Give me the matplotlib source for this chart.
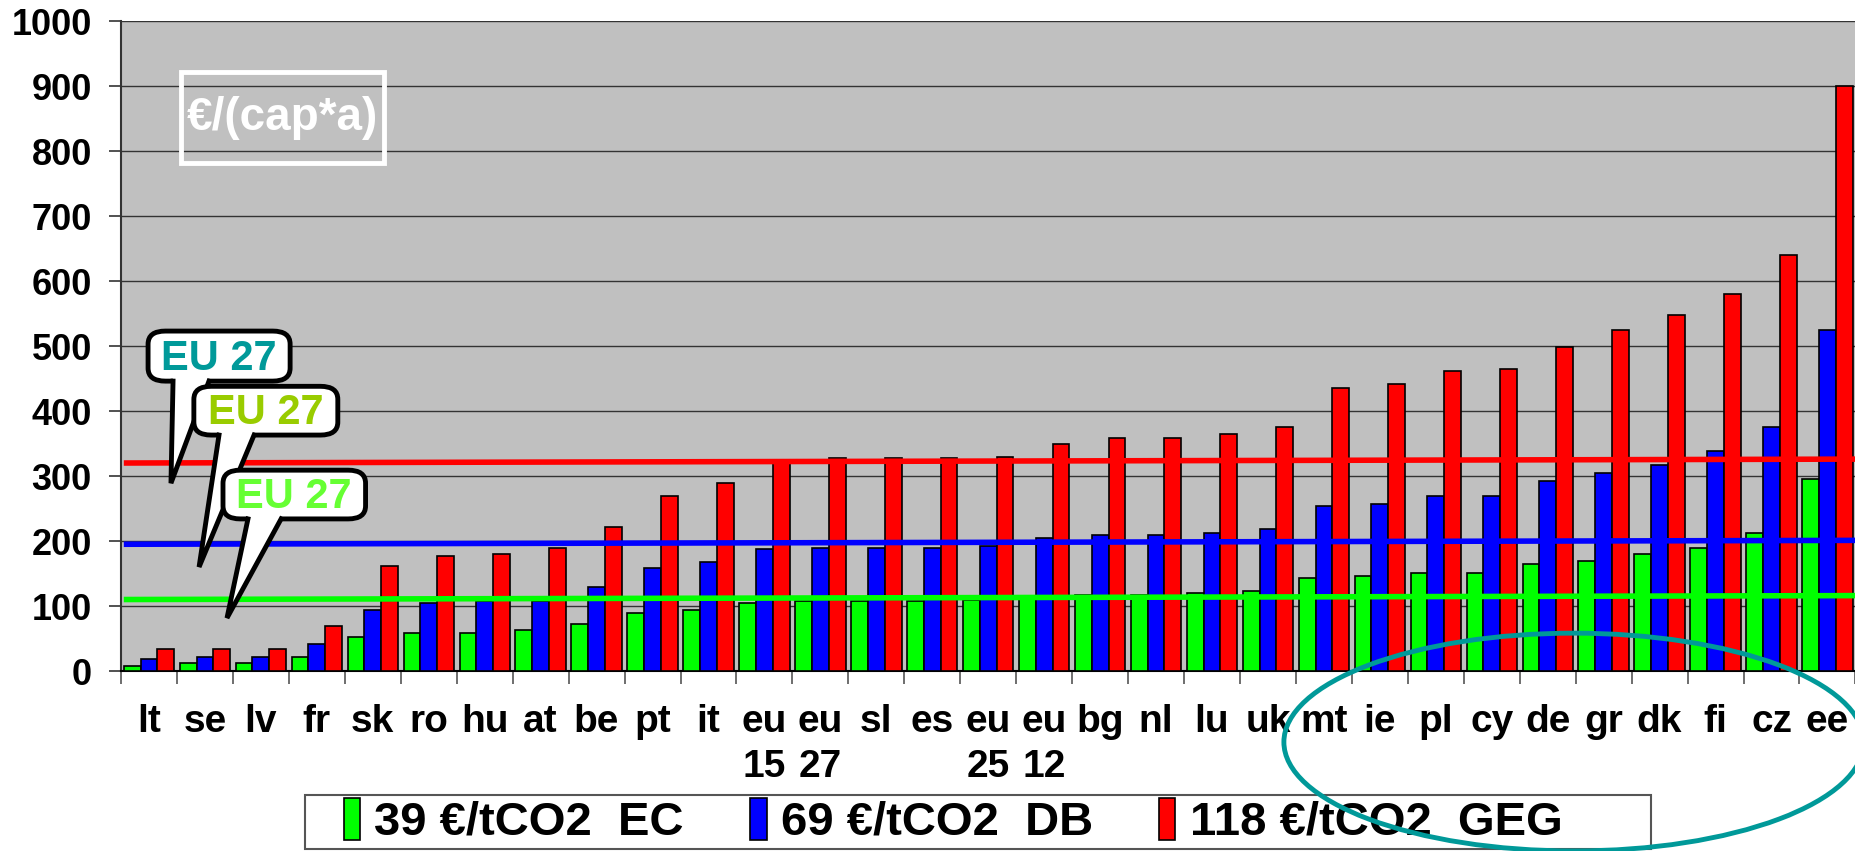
import matplotlib
matplotlib.use('Agg')
import matplotlib.pyplot as plt
import numpy as np
from matplotlib.patches import FancyBboxPatch, Polygon, Ellipse, Rectangle

# data (€ per capita and year)
countries = ['lt', 'se', 'lv', 'fr', 'sk', 'ro', 'hu', 'at', 'be', 'pt', 'it',
             'eu\n15', 'eu\n27', 'sl', 'es', 'eu\n25', 'eu\n12', 'bg', 'nl', 'lu',
             'uk', 'mt', 'ie', 'pl', 'cy', 'de', 'gr', 'dk', 'fi', 'cz', 'ee']
ec_39 = [8, 12, 12, 22, 53, 59, 59, 63, 72, 89, 94, 104, 107, 108, 108, 109,
         112, 117, 117, 120, 123, 143, 146, 151, 151, 164, 170, 180, 190, 212, 295]
db_69 = [18, 22, 22, 41, 94, 104, 107, 108, 130, 159, 168, 187, 190, 190, 190,
         193, 204, 209, 209, 212, 219, 254, 257, 270, 270, 292, 305, 317, 339, 375, 525]
geg_118 = [34, 34, 34, 69, 162, 177, 180, 190, 222, 270, 289, 322, 327, 327, 327,
           330, 349, 359, 359, 365, 375, 435, 442, 462, 465, 499, 525, 547, 580, 640, 900]

# EU 27 average lines (drawn slightly tilted in the original)
eu27_ec = [110, 116]
eu27_db = [195, 201]
eu27_geg = [320, 326]

series_labels = ['39 €/tCO2  EC', '69 €/tCO2  DB', '118 €/tCO2  GEG']
colors = ['#00ff00', '#0000ff', '#ff0000']

plt.rcParams['font.family'] = ['Liberation Sans', 'DejaVu Sans']
plt.rcParams['font.weight'] = 'bold'

fig = plt.figure(figsize=(18.56, 8.51), dpi=100)
ax = fig.add_axes([0.0652, 0.2115, 0.9345, 0.7638])
ax.set_facecolor('#c0c0c0')

x = np.arange(len(countries))
w = 0.30
for i, (vals, c, lab) in enumerate(zip([ec_39, db_69, geg_118], colors, series_labels)):
    ax.bar(x + (i - 1) * w, vals, width=w, color=c, edgecolor='black',
           linewidth=1.2, label=lab, zorder=3)

xs = [-0.45, len(countries) - 0.5]
ax.plot(xs, eu27_ec, color='#00ff00', lw=4, zorder=4, solid_capstyle='butt')
ax.plot(xs, eu27_db, color='#0000ff', lw=4, zorder=4, solid_capstyle='butt')
ax.plot(xs, eu27_geg, color='#ff0000', lw=4, zorder=4, solid_capstyle='butt')

ax.set_xlim(-0.5, len(countries) - 0.5)
ax.set_ylim(0, 1000)
ax.set_yticks(range(0, 1001, 100))
ax.yaxis.grid(True, color='#333333', lw=1)
ax.set_axisbelow(True)
ax.tick_params(axis='y', labelsize=26, length=9, width=1.2, pad=12, color='#333333')

ax.set_xticks(x)
ax.set_xticklabels(countries, fontsize=28, linespacing=1.3, va='top')
ax.set_xticks(np.arange(-0.5, len(countries)), minor=True)
ax.tick_params(axis='x', which='major', length=0, pad=24)
ax.tick_params(axis='x', which='minor', length=9, width=1.2, color='#555555')
for s in ['top', 'right']:
    ax.spines[s].set_visible(False)
ax.spines['left'].set_color('#333333')
ax.spines['left'].set_linewidth(1.5)
ax.spines['bottom'].set_color('black')
ax.spines['bottom'].set_linewidth(1.5)

# unit box
ax.add_patch(Rectangle((0.0346, 0.782), 0.117, 0.139, transform=ax.transAxes,
                       fill=False, edgecolor='white', lw=3.5, zorder=6))
ax.text(0.093, 0.851, '€/(cap*a)', transform=ax.transAxes, color='white',
        fontsize=33, ha='center', va='center', zorder=6)

# EU 27 callouts: box (x0, y0, x1, y1), tail base x0/x1, tip, text colour
callouts = [
    ((0.0156, 0.446, 0.0975, 0.523), (0.030, 0.0507), (0.0288, 0.289), '#009999'),
    ((0.042, 0.363, 0.125, 0.438), (0.0565, 0.0767), (0.045, 0.160), '#99cc00'),
    ((0.0588, 0.234, 0.141, 0.309), (0.0732, 0.0923), (0.0611, 0.0815), '#66ff33'),
]
for k, (box, base, tip, tc) in enumerate(callouts):
    z = 7 + k
    x0, y0, x1, y1 = box
    ax.add_patch(FancyBboxPatch((x0, y0), x1 - x0, y1 - y0, transform=ax.transAxes,
                                boxstyle='round,pad=0,rounding_size=0.01',
                                facecolor='white', edgecolor='black', lw=3.5,
                                zorder=z, mutation_aspect=2.0))
    tail = [(base[0], y0 + 0.006), tip, (base[1], y0 + 0.006)]
    ax.add_patch(Polygon(tail, closed=True, transform=ax.transAxes,
                         facecolor='white', edgecolor='none', zorder=z))
    ax.plot([base[0], tip[0], base[1]], [y0, tip[1], y0], transform=ax.transAxes,
            color='black', lw=3.5, zorder=z, solid_joinstyle='miter')
    ax.text((x0 + x1) / 2, (y0 + y1) / 2 - 0.004, 'EU 27', transform=ax.transAxes,
            color=tc, fontsize=30, ha='center', va='center', zorder=z)

# legend: entries without frame, frame drawn separately (wider than entries)
fig.patches.append(Rectangle((0.1643, 0.0024), 0.7252, 0.0634, transform=fig.transFigure,
                             facecolor='white', edgecolor='#555555', lw=1.5, zorder=1))
leg = fig.legend(loc='center', bbox_to_anchor=(0.5135, 0.035), ncol=3,
                 fontsize=34, frameon=False,
                 handlelength=0.35, handleheight=1.0, handletextpad=0.3,
                 columnspacing=1.4, borderpad=0.1, borderaxespad=0.0)
leg.set_zorder(2)

# teal ellipse around the high-cost countries
fig.patches.append(Ellipse((0.848, 0.128), 0.3125, 0.256, transform=fig.transFigure,
                           fill=False, edgecolor='#009999', lw=3.5, zorder=10))

fig.savefig('out.png', dpi=100)
